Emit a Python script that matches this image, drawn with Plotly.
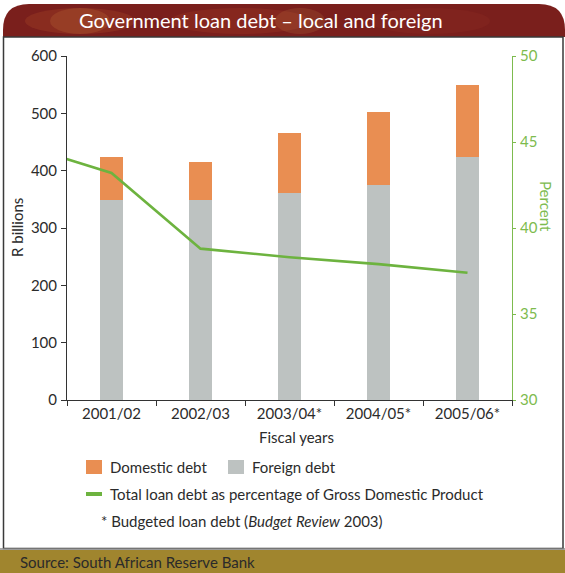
import plotly.graph_objects as go

# Fiscal years shown on the chart (2000/01 only feeds the start of the GDP line)
line_years = ["2000/01", "2001/02", "2002/03", "2003/04*", "2004/05*", "2005/06*"]
bar_years = ["2001/02", "2002/03", "2003/04*", "2004/05*", "2005/06*"]

# R billions
foreign_debt = [349, 349, 361, 375, 423]
domestic_debt = [74, 66, 105, 127, 126]

# Total loan debt as % of GDP
debt_pct_gdp = [44.8, 43.2, 38.8, 38.3, 37.9, 37.4]

ORANGE = "#E98E52"
GREY = "#BDC2C1"
GREEN = "#6DB33F"
AXIS_GREEN = "#7DBB4E"
TEXT = "#2b2b2b"
FONT = "Lato"
FS = 15

W, H = 565, 573
L, R, T, B = 67, 53, 56, 173
PW, PH = W - L - R, H - T - B


def fx(px):
    return (px - L) / PW


def fy(py):
    return (H - B - py) / PH


fig = go.Figure()

fig.add_trace(go.Bar(
    x=bar_years, y=foreign_debt, marker_color=GREY, marker_line_width=0,
    width=0.26, name="Foreign debt", showlegend=False,
))
fig.add_trace(go.Bar(
    x=bar_years, y=domestic_debt, marker_color=ORANGE, marker_line_width=0,
    width=0.26, name="Domestic debt", showlegend=False,
))
fig.add_trace(go.Scatter(
    x=line_years, y=debt_pct_gdp, yaxis="y2", mode="lines",
    line=dict(color=GREEN, width=2.6), showlegend=False,
))

shapes = []
annotations = []

# Title band with rounded top corners
x0, x1, y0, y1, r = fx(3), fx(565), fy(37), fy(4), 26
shapes.append(dict(
    type="path", xref="paper", yref="paper", layer="below",
    path=(f"M {x0} {y0} L {x0} {fy(4 + r)} "
          f"Q {x0} {y1} {fx(3 + r)} {y1} "
          f"L {fx(565 - r)} {y1} Q {x1} {y1} {x1} {fy(4 + r)} "
          f"L {x1} {y0} Z"),
    fillcolor="#7A1F1C", line=dict(width=0),
))
# soft warm glows across the band
for cx, rx, col, op in [(80, 55, "#C05A2C", 0.22), (80, 30, "#D98A45", 0.18),
                         (240, 70, "#B04428", 0.22), (300, 25, "#D99A50", 0.15),
                         (430, 60, "#952F24", 0.25)]:
    shapes.append(dict(
        type="circle", xref="paper", yref="paper", layer="below",
        x0=fx(cx - rx), x1=fx(cx + rx), y0=fy(34), y1=fy(8),
        fillcolor=col, opacity=op, line=dict(width=0),
    ))

# Panel border
shapes.append(dict(
    type="rect", xref="paper", yref="paper", layer="below",
    x0=fx(3.5), x1=fx(563), y0=fy(548.5), y1=fy(37),
    fillcolor="rgba(0,0,0,0)", line=dict(color="#3a3a3a", width=1.5),
))
# Source band
shapes.append(dict(
    type="rect", xref="paper", yref="paper", layer="below",
    x0=fx(0), x1=fx(565), y0=fy(573), y1=fy(550),
    fillcolor="#A0852E", line=dict(width=0),
))
shapes.append(dict(
    type="line", xref="paper", yref="paper",
    x0=fx(0), x1=fx(565), y0=fy(549), y1=fy(549),
    line=dict(color="#8a8a8a", width=1.5),
))

# Legend keys
shapes.append(dict(type="rect", xref="paper", yref="paper",
                   x0=fx(86), x1=fx(102), y0=fy(474), y1=fy(460),
                   fillcolor=ORANGE, line=dict(width=0)))
shapes.append(dict(type="rect", xref="paper", yref="paper",
                   x0=fx(228), x1=fx(244), y0=fy(474), y1=fy(460),
                   fillcolor=GREY, line=dict(width=0)))
shapes.append(dict(type="rect", xref="paper", yref="paper",
                   x0=fx(86), x1=fx(102), y0=fy(496), y1=fy(492),
                   fillcolor=GREEN, line=dict(width=0)))


def label(text, px, py, size=FS, color=TEXT, xanchor="left", angle=0):
    annotations.append(dict(
        text=text, x=fx(px), y=fy(py), xref="paper", yref="paper",
        xanchor=xanchor, yanchor="middle", showarrow=False, textangle=angle,
        font=dict(family=FONT, size=size, color=color),
    ))


label("Government loan debt – local and foreign", 261, 20, size=20,
      color="white", xanchor="center")
label("Domestic debt", 108, 467)
label("Foreign debt", 250, 467)
label("Total loan debt as percentage of Gross Domestic Product", 108, 494)
label("* Budgeted loan debt (<i>Budget Review</i> 2003)", 99, 521)
label("Source: South African Reserve Bank", 18, 562, size=15, color="#2a2a2a")
label("Fiscal years", 296, 437, xanchor="center")
label("R billions", 17, 228, xanchor="center", angle=-90)
label("Percent", 546, 206, color=AXIS_GREEN, xanchor="center", angle=90)

fig.update_layout(
    width=W, height=H,
    margin=dict(l=L, r=R, t=T, b=B, autoexpand=False),
    paper_bgcolor="white", plot_bgcolor="white",
    barmode="stack", bargap=0.74,
    font=dict(family=FONT, size=FS, color=TEXT),
    shapes=shapes, annotations=annotations, showlegend=False,
    xaxis=dict(
        type="category", categoryorder="array", categoryarray=line_years,
        range=[0.5, 5.5], tickson="boundaries", ticks="outside", ticklen=5,
        tickcolor="#333", showline=True, linecolor="#333", linewidth=1,
        showgrid=False, zeroline=False, fixedrange=True,
        tickfont=dict(family=FONT, size=FS, color=TEXT),
    ),
    yaxis=dict(
        range=[0, 600], tickvals=[0, 100, 200, 300, 400, 500, 600],
        ticks="outside", ticklen=5, tickcolor="#333",
        showline=True, linecolor="#333", linewidth=1,
        showgrid=False, zeroline=False, ticklabelstandoff=1,
        tickfont=dict(family=FONT, size=FS, color=TEXT),
    ),
    yaxis2=dict(
        overlaying="y", side="right", range=[30, 50],
        tickvals=[30, 35, 40, 45, 50], ticks="outside", ticklen=3,
        tickcolor=AXIS_GREEN, showline=True, linecolor=AXIS_GREEN, linewidth=1,
        showgrid=False, zeroline=False, ticklabelstandoff=1,
        tickfont=dict(family=FONT, size=FS, color=AXIS_GREEN),
    ),
)

fig.write_html("out.html")
